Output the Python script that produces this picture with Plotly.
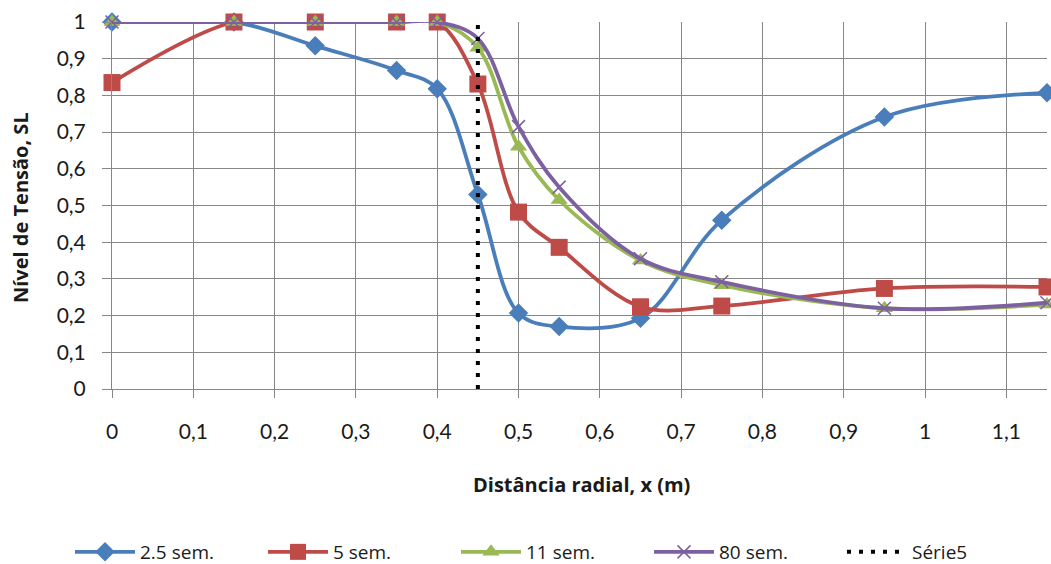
import plotly.graph_objects as go

# Radial distance (m) at which each profile was measured
x_dist = [0, 0.15, 0.25, 0.35, 0.4, 0.45, 0.5, 0.55, 0.65, 0.75, 0.95, 1.15]

# Stress level SL for each age of the specimen
sl_2_5 = [1.0, 1.0, 0.935, 0.868, 0.818, 0.53, 0.207, 0.17, 0.193, 0.46, 0.741, 0.807]
sl_5 = [0.835, 1.0, 1.0, 1.0, 1.0, 0.831, 0.482, 0.386, 0.224, 0.226, 0.274, 0.278]
sl_11 = [1.0, 1.0, 1.0, 1.0, 1.0, 0.93, 0.66, 0.515, 0.35, 0.283, 0.22, 0.23]
sl_80 = [1.0, 1.0, 1.0, 1.0, 1.0, 0.955, 0.715, 0.55, 0.355, 0.292, 0.22, 0.235]

# Reference vertical line (Série5)
serie5_x = [0.45, 0.45]
serie5_y = [0.0, 1.0]

x_ticks = [0, 0.1, 0.2, 0.3, 0.4, 0.5, 0.6, 0.7, 0.8, 0.9, 1.0, 1.1]
x_tick_text = ["0", "0,1", "0,2", "0,3", "0,4", "0,5", "0,6", "0,7", "0,8", "0,9", "1", "1,1"]
y_ticks = [0, 0.1, 0.2, 0.3, 0.4, 0.5, 0.6, 0.7, 0.8, 0.9, 1.0]
y_tick_text = ["0", "0,1", "0,2", "0,3", "0,4", "0,5", "0,6", "0,7", "0,8", "0,9", "1"]

FONT = "Lato"
TITLE_FONT = "Open Sans"
GRID = "#878787"
TXT = "#1a1a1a"

fig = go.Figure()

series = [
    ("2.5 sem.", sl_2_5, "#4A7EBB", dict(symbol="diamond", size=15)),
    ("5 sem.", sl_5, "#BE4B48", dict(symbol="square", size=17)),
    ("11 sem.", sl_11, "#98B954", dict(symbol="triangle-up", size=15)),
    ("80 sem.", sl_80, "#7D60A0", dict(symbol="x-thin", size=13,
                                        line=dict(width=1.5, color="#7D60A0"))),
]

for name, ys, color, mk in series:
    fig.add_trace(go.Scatter(
        x=x_dist, y=ys, name=name, mode="lines+markers",
        line=dict(color=color, width=3.8, shape="spline", smoothing=1.0),
        marker=dict(color=color, **mk),
        cliponaxis=False,
    ))

fig.add_trace(go.Scatter(
    x=serie5_x, y=serie5_y, name="Série5", mode="lines",
    line=dict(color="black", width=4, dash="4px,8px"),
    cliponaxis=False,
))

fig.update_layout(
    width=1051, height=564,
    margin=dict(l=112, r=4, t=22, b=175, autoexpand=False),
    paper_bgcolor="white", plot_bgcolor="white",
    font=dict(family=FONT, size=21, color=TXT),
    showlegend=True,
    legend=dict(
        orientation="h", x=(70 - 112) / 935, xanchor="left",
        y=-(552 - 389) / 367, yanchor="middle",
        font=dict(family=TITLE_FONT, size=19, color=TXT),
        itemwidth=60, entrywidth=118, tracegroupgap=0,
    ),
    annotations=[
        dict(text="<b>Distância radial, x (m)</b>", xref="paper", yref="paper",
             x=(581 - 112) / 935, y=-(485 - 389) / 367, showarrow=False,
             font=dict(family=TITLE_FONT, size=20, color=TXT), xanchor="center", yanchor="middle"),
        dict(text="<b>Nível de Tensão, SL</b>", xref="paper", yref="paper",
             x=-(112 - 21) / 935, y=(389 - 208) / 367, showarrow=False, textangle=-90,
             font=dict(family=TITLE_FONT, size=20, color=TXT), xanchor="center", yanchor="middle"),
    ],
)

fig.update_xaxes(
    range=[0, 1.15], tickvals=x_ticks, ticktext=x_tick_text,
    showgrid=True, gridcolor=GRID, gridwidth=1,
    showline=True, linecolor=GRID, linewidth=1,
    ticks="outside", ticklen=8, tickcolor=GRID, tickwidth=1,
    ticklabelstandoff=16, zeroline=False,
)
fig.update_yaxes(
    range=[0, 1.0], tickvals=y_ticks, ticktext=y_tick_text,
    showgrid=True, gridcolor=GRID, gridwidth=1,
    showline=True, linecolor=GRID, linewidth=1,
    ticks="outside", ticklen=9, tickcolor=GRID, tickwidth=1,
    ticklabelstandoff=12, zeroline=False,
)

fig.write_html("out.html")
